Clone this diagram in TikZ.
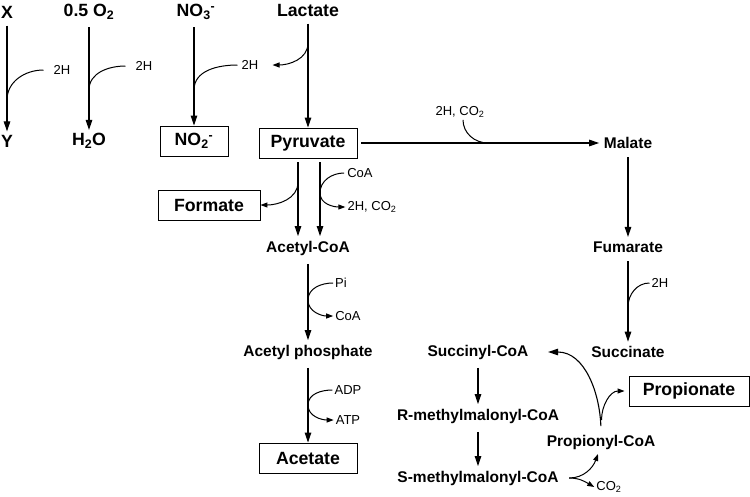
\documentclass[tikz,border=0pt]{standalone}
\usepackage{fontspec}
\setmainfont{Liberation Sans}
\usetikzlibrary{arrows.meta}
\tikzset{
  big/.style={font=\fontsize{17.7}{20}\selectfont\bfseries},
  met/.style={font=\fontsize{15.5}{18}\selectfont\bfseries, inner sep=4.5pt},
  box/.style={big, draw, line width=0.9pt, minimum height=30pt, minimum width=#1},
  lbl/.style={font=\fontsize{13}{15}\selectfont, inner sep=2pt},
  arr/.style={line width=1.1pt, -{Triangle[length=10pt,width=6.5pt]}, shorten <=4pt},
  sarr/.style={line width=1pt, -{Triangle[length=7pt,width=5pt]}},
  sln/.style={line width=1pt}
}
\begin{document}
\begin{tikzpicture}[x=1pt,y=1pt]
\useasboundingbox (0,0) rectangle (750,-496);

% electron acceptors
\node[big] (x) at (7,-12) {X};
\node[big] (y) at (7,-141) {Y};
\node[big] (o2) at (89,-12) {0.5 O\textsubscript{2}};
\node[big] (h2o) at (89,-141) {H\textsubscript{2}O};
\node[big] (no3) at (196,-12) {NO\textsubscript{3}\textsuperscript{-}};
\node[box=68pt] (no2) at (194,-141) {NO\textsubscript{2}\textsuperscript{-}};

% lactate to acetate
\node[big] (lac) at (308,-10) {Lactate};
\node[box=98pt] (pyr) at (308,-143) {Pyruvate};
\node[box=102pt] (fmt) at (209,-205) {Formate};
\node[met] (acoa) at (308,-248) {Acetyl-CoA};
\node[met] (acp) at (308,-352) {Acetyl phosphate};
\node[box=98pt] (ace) at (308,-458) {Acetate};

% lactate to propionate
\node[met] (mal) at (628,-143) {Malate};
\node[met] (fum) at (628,-247) {Fumarate};
\node[met] (suc) at (628,-352) {Succinate};
\node[met] (sucoa) at (478,-352) {Succinyl-CoA};
\node[met] (rmm) at (478,-416) {R-methylmalonyl-CoA};
\node[met] (smm) at (478,-478) {S-methylmalonyl-CoA};
\node[met] (prcoa) at (601,-442) {Propionyl-CoA};
\node[box=120pt] (prop) at (689,-391) {Propionate};

% side labels
\node[lbl] (hx) at (62,-70) {2H};
\node[lbl] (ho) at (144,-66) {2H};
\node[lbl] (hn) at (250,-65) {2H};
\node[lbl] (hc) at (460,-112) {2H, CO\textsubscript{2}};
\node[lbl] (coa1) at (360,-173) {CoA};
\node[lbl] (hc2) at (372,-207) {2H, CO\textsubscript{2}};
\node[lbl] (pi) at (341,-283) {Pi};
\node[lbl] (coa2) at (348,-316) {CoA};
\node[lbl] (adp) at (348,-390) {ADP};
\node[lbl] (atp) at (348,-420) {ATP};
\node[lbl] (hs) at (660,-283) {2H};
\node[lbl] (co2) at (609,-487) {CO\textsubscript{2}};

\coordinate (jx) at (7,-100);
\coordinate (jo) at (89,-90);
\coordinate (jn) at (194,-90);
\coordinate (jl) at (308,-43);
\coordinate (jm) at (488,-143);
\coordinate (jf) at (298,-182);
\coordinate (jc) at (320,-193);
\coordinate (jp) at (308,-300);
\coordinate (ja) at (308,-405);
\coordinate (js) at (628,-307);
\coordinate (jq) at (601.5,-420);

\draw[arr] (x) -- (y);
\draw[arr] (o2) -- (h2o);
\draw[arr] (no2.north |- no3.south) -- (no2);
\draw[arr] (lac) -- (pyr);
\draw[arr] (pyr) -- (mal);
\draw[arr] ([xshift=-10pt]pyr.south) -- ([xshift=-10pt]acoa.north);
\draw[arr] ([xshift=12pt]pyr.south) -- ([xshift=12pt]acoa.north);
\draw[arr] (acoa) -- (acp);
\draw[arr] (acp) -- (ace);
\draw[arr] (mal) -- (fum);
\draw[arr] (fum) -- (suc);
\draw[arr] (sucoa) -- (rmm);
\draw[arr] (rmm) -- (smm);
\draw[arr] (prcoa.north) to[out=92,in=0] ([xshift=15pt]sucoa.east);

\draw[sln] ([xshift=-8pt]hx.west) to[out=180,in=90] (jx);
\draw[sln] ([xshift=-8pt]ho.west) to[out=180,in=90] (jo);
\draw[sln] ([xshift=-2pt]hn.west) to[out=180,in=90] (jn);
\draw[sarr] (jl) to[out=270,in=0] ([xshift=12pt]hn.east);
\draw[sln] ([xshift=3pt]hc.south) to[out=270,in=180] (jm);
\draw[sarr] (jf) to[out=270,in=0] (fmt.east);
\draw[sarr] ([xshift=-1pt]coa1.west) to[out=180,in=90] (jc) to[out=270,in=180] (hc2.west);
\draw[sarr] (pi.west) to[out=180,in=90] (jp) to[out=270,in=180] (coa2.west);
\draw[sarr] (adp.west) to[out=180,in=90] (ja) to[out=270,in=180] (atp.west);
\draw[sln] (hs.west) to[out=180,in=90] (js);
\draw[sarr] (jq) to[out=90,in=180] ([xshift=-4pt]prop.west);
\draw[sarr] ([xshift=6pt]smm.east) to[out=0,in=250] ([xshift=-3pt]prcoa.south);
\draw[sarr] ([xshift=6pt]smm.east) to[out=0,in=150] (co2.west);
\end{tikzpicture}
\end{document}
